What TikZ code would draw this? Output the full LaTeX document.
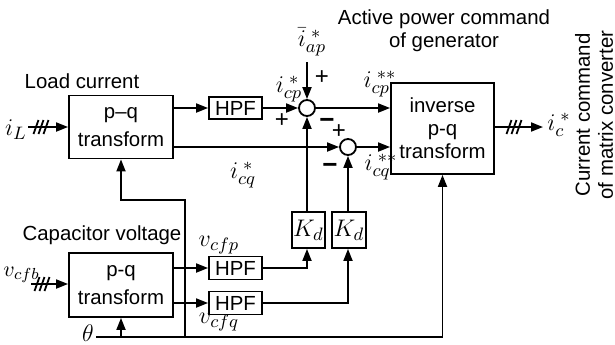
\documentclass[tikz,border=0pt]{standalone}
\usepackage{fontspec}
\setmainfont{Liberation Sans}
\usetikzlibrary{arrows.meta}

\begin{document}
\begin{tikzpicture}[x=0.5pt,y=-0.5pt,
  every node/.style={font=\fontsize{10.2}{11.5}\selectfont},
  lbl/.style={font=\fontsize{12.5}{14}\selectfont,inner sep=0pt},
  blk/.style={draw,line width=0.9pt,inner sep=0pt,align=center},
  sumpt/.style={draw,circle,line width=0.9pt,minimum size=8pt,inner sep=0pt},
  sig/.style={line width=0.9pt,-{Triangle[length=6pt,width=4.5pt]}},
  wire/.style={line width=0.9pt},
  plus/.style={font=\fontsize{12}{13}\selectfont,inner sep=0pt},
  minus/.style={font=\fontsize{13}{14}\bfseries,inner sep=0pt}]
\useasboundingbox (0,0) rectangle (615,344);

% blocks
\node[blk,minimum width=52pt,minimum height=31.5pt] (pq1) at (121,127) {p–q\\[2.5pt]transform};
\node[blk,minimum width=52pt,minimum height=32pt] (pq2) at (121,285) {p-q\\[2.5pt]transform};
\node[blk,minimum width=26.5pt,minimum height=11pt] (hpf1) at (235.5,108) {HPF};
\node[blk,minimum width=26.5pt,minimum height=11.5pt] (hpf2) at (235.5,268) {HPF};
\node[blk,minimum width=26.5pt,minimum height=11.5pt] (hpf3) at (235.5,303) {HPF};
\node[sumpt] (s1) at (307,108) {};
\node[sumpt] (s2) at (348,147) {};
\node[blk,minimum width=16.5pt,minimum height=18pt,font=\fontsize{12.5}{14}\selectfont] (kd1) at (308.5,230) {$K_d$};
\node[blk,minimum width=17pt,minimum height=18pt,font=\fontsize{12.5}{14}\selectfont] (kd2) at (349,230) {$K_d$};
\node[blk,minimum width=51.5pt,minimum height=45.5pt] (inv) at (442.5,128.5) {inverse\\p-q\\transform};

% free ends
\coordinate (iL) at (28,127);
\coordinate (vin) at (31,284);
\coordinate (ap) at (307,62);
\coordinate (ic) at (543,127);
\coordinate (th) at (96,337);
\coordinate (br) at (185,200);

% connectors
\draw[sig] (iL) -- (iL -| pq1.west);
\draw[sig] (vin) -- (vin -| pq2.west);
\draw[sig] (pq1.east |- hpf1) -- (hpf1);
\draw[sig] (hpf1) -- (s1);
\draw[sig] (pq1.east |- s2) -- (s2);
\draw[sig] (ap) -- (s1);
\draw[sig] (s1) -- (s1 -| inv.west);
\draw[sig] (s2) -- (s2 -| inv.west);
\draw[sig] (kd1.north -| s1) -- (s1);
\draw[sig] (kd2.north -| s2) -- (s2);
\draw[sig] (pq2.east |- hpf2) -- (hpf2);
\draw[sig] (pq2.east |- hpf3) -- (hpf3);
\draw[sig] (hpf2) -| (kd1.south -| s1);
\draw[sig] (hpf3) -| (kd2.south -| s2);
\draw[sig] (inv.east |- ic) -- (ic);
\draw[sig] (th) -| (inv.south);
\draw[sig] (th -| pq2.south) -- (pq2.south);
\draw[sig] (th -| br) |- (br -| pq1.south) -- (pq1.south);

% three-phase marks
\foreach \x in {36,41,46} \draw[wire] (\x-2.5,134) -- (\x+2.5,120);
\foreach \x in {37,42,47} \draw[wire] (\x-2.5,291) -- (\x+2.5,277);
\foreach \x in {509,514,519} \draw[wire] (\x-2.5,134) -- (\x+2.5,120);

% texts
\node (loadtxt) at (82,81) {Load current};
\node (captxt) at (102,235) {Capacitor voltage};
\node[align=center] (gentxt) at (444,31) {Active power command\\of generator};
\node[rotate=90,align=center] (mctxt) at (594,115) {Current command\\of matrix converter};

\node[lbl] (iLlbl) at (16,130) {$i_L$};
\node[lbl,font=\fontsize{11}{13}\selectfont,anchor=west] (vcfb) at (3,275) {$v_{cfb}$};
\node[lbl] (thlbl) at (88,333) {$\theta$};
\node[lbl] (iap) at (312,42) {$\bar{i}_{ap}^{\;*}$};
\node[lbl] (icp1) at (289,89) {$i_{cp}^{\;*}$};
\node[lbl] (icp2) at (380,84) {$i_{cp}^{\;**}$};
\node[lbl] (icq2) at (381,167) {$i_{cq}^{\;**}$};
\node[lbl] (icq1) at (243,175) {$i_{cq}^{\;*}$};
\node[lbl] (iclbl) at (559,125) {$i_{c}^{\;*}$};
\node[lbl] (vcfp) at (219,245) {$v_{cfp}$};
\node[lbl] (vcfq) at (219,322) {$v_{cfq}$};

% signs
\node[plus] (p1) at (282,121) {+};
\node[plus] (p2) at (322,78) {+};
\node[plus] (p3) at (339,132) {+};
\node[minus] (m1) at (327,123) {−};
\node[minus] (m2) at (330,168) {−};
\end{tikzpicture}
\end{document}
